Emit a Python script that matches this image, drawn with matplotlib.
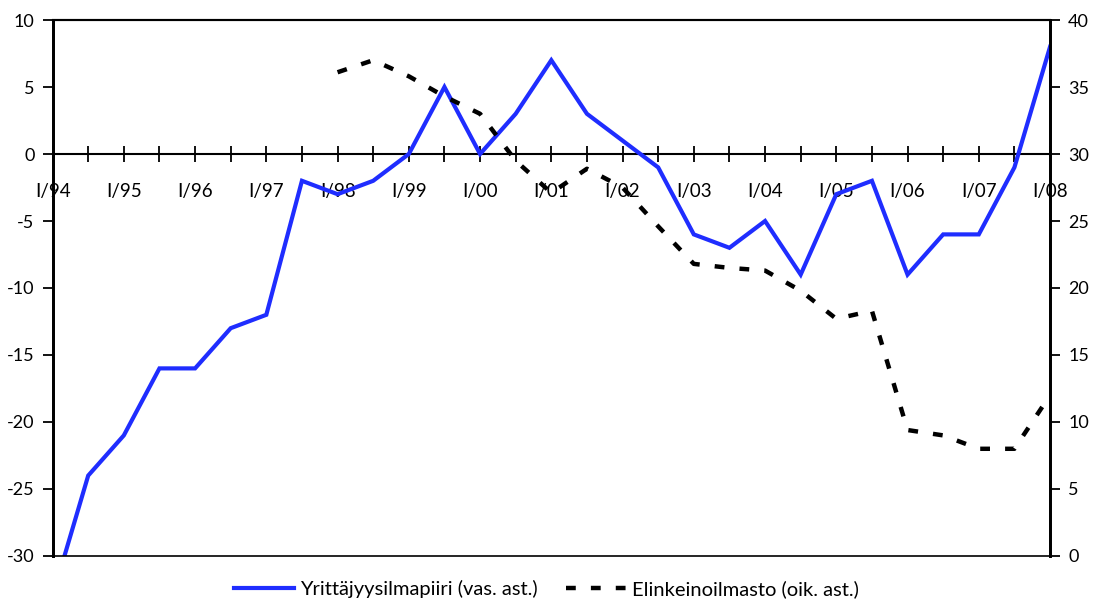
import numpy as np
import matplotlib.pyplot as plt
from matplotlib.ticker import FixedLocator

# half-year observations from I/94 to I/08
periods = np.arange(29)
year_labels = ['I/94', 'I/95', 'I/96', 'I/97', 'I/98', 'I/99', 'I/00', 'I/01',
               'I/02', 'I/03', 'I/04', 'I/05', 'I/06', 'I/07', 'I/08']

# Yrittajyysilmapiiri, left axis
yrittajyys = [-33, -24, -21, -16, -16, -13, -12, -2, -3, -2, 0, 5, 0, 3, 7,
              3, 1, -1, -6, -7, -5, -9, -3, -2, -9, -6, -6, -1, 8]

# Elinkeinoilmasto, right axis (starts at I/98)
elinkeino_periods = np.arange(8, 29)
elinkeino = [36.1, 37.0, 35.8, 34.3, 33.0, 29.5, 27.1, 28.9, 27.5, 24.6, 21.8,
             21.5, 21.3, 19.8, 17.7, 18.3, 9.4, 9.0, 8.0, 8.0, 12.0]

FONT = 'Lato'
plt.rcParams['font.family'] = [FONT, 'DejaVu Sans']
plt.rcParams['axes.unicode_minus'] = False

fig = plt.figure(figsize=(10.93, 6.01), dpi=100)
ax = fig.add_axes([0.0481, 0.0749, 0.9126, 0.8918])
ax2 = ax.twinx()

l1, = ax.plot(periods, yrittajyys, color='#1f2dff', lw=3, zorder=3,
              solid_joinstyle='miter', label='Yrittäjyysilmapiiri (vas. ast.)')
l2, = ax2.plot(elinkeino_periods, elinkeino, color='black', lw=3.2,
               dashes=(2.2, 3.4), dash_capstyle='butt',
               label='Elinkeinoilmasto (oik. ast.)')

ax.set_xlim(0, 28)
ax.set_ylim(-30, 10)
ax2.set_ylim(0, 40)
ax.set_yticks(np.arange(-30, 11, 5))
ax2.set_yticks(np.arange(0, 41, 5))

# x axis runs through zero, ticks on every half year
ax.spines['bottom'].set_position(('data', 0))
ax.spines['bottom'].set_linewidth(1.5)
ax.xaxis.set_major_locator(FixedLocator(np.arange(0, 29, 2)))
ax.xaxis.set_minor_locator(FixedLocator(np.arange(1, 28, 2)))
ax.set_xticklabels(year_labels)
ax.tick_params(axis='x', which='both', direction='inout', length=12, width=1.3,
               pad=15, labelsize=13.5)
ax.tick_params(axis='y', direction='out', length=7, width=1.3, labelsize=13, pad=6)
ax2.tick_params(axis='y', direction='out', length=7, width=1.3, labelsize=13, pad=6)
ax2.tick_params(axis='x', which='both', length=0)

for a in (ax, ax2):
    a.spines['left'].set_linewidth(2)
    a.spines['right'].set_linewidth(2)
    a.spines['top'].set_linewidth(1.5)
ax2.spines['bottom'].set_linewidth(1.2)

fig.legend(handles=[l1, l2], loc='lower center', bbox_to_anchor=(0.5, -0.025),
           ncol=2, frameon=False, fontsize=14.5, handlelength=3.0,
           handletextpad=0.3, columnspacing=1.4)

fig.savefig('out.png', dpi=100)
